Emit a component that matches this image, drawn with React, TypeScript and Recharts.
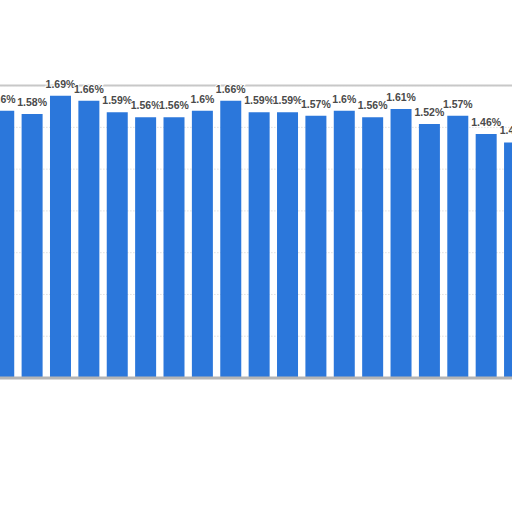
import React from "react";
import { BarChart, Bar, XAxis, YAxis, CartesianGrid, LabelList, ReferenceLine } from "recharts";

const categories = ["2000","2001","2002","2003","2004","2005","2006","2007","2008","2009","2010","2011","2012","2013","2014","2015","2016","2017","2018"];
const rates = [1.6, 1.58, 1.69, 1.66, 1.59, 1.56, 1.56, 1.6, 1.66, 1.59, 1.59, 1.57, 1.6, 1.56, 1.61, 1.52, 1.57, 1.46, 1.41];
const yTicks = [0, 0.25, 0.5, 0.75, 1, 1.25, 1.5, 1.75];

const data = categories.map((c, i) => ({ name: c, value: rates[i] }));

export default function App() {
  return (
    <div style={{ position: "fixed", left: 0, top: 0, width: 512, height: 512, overflow: "hidden", background: "#fff" }}>
      <div style={{ position: "absolute", left: -20, top: 0 }}>
        <BarChart
          width={560}
          height={400}
          data={data}
          margin={{ top: 85.6, right: 11.4, bottom: 22, left: 9.4 }}
          barCategoryGap="13.5%"
        >
          <CartesianGrid vertical={false} stroke="#d0d0d0" strokeDasharray="1 2" />
          <XAxis dataKey="name" hide />
          <YAxis hide domain={[0, 1.75]} ticks={yTicks} />
          <ReferenceLine y={1.75} stroke="#c8c8c8" strokeWidth={2} ifOverflow="visible" />
          <Bar dataKey="value" fill="#2b77db" isAnimationActive={false}>
            <LabelList
              dataKey="value"
              position="top"
              offset={8}
              formatter={(v: number) => `${v}%`}
              style={{ fontFamily: "Liberation Sans, Arial, sans-serif", fontSize: 10.5, fontWeight: "bold", fill: "#4a4a4a", stroke: "#fff", strokeWidth: 2, paintOrder: "stroke" }}
            />
          </Bar>
          <ReferenceLine y={0} stroke="#b5b5b5" strokeWidth={3} ifOverflow="visible" />
        </BarChart>
      </div>
    </div>
  );
}
